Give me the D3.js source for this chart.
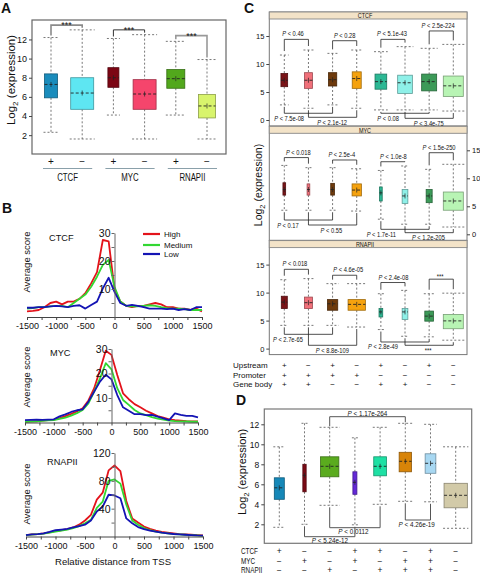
<!DOCTYPE html>
<html><head><meta charset="utf-8">
<script src="https://cdn.jsdelivr.net/npm/d3@7/dist/d3.min.js"></script>
<style>
body{margin:0;background:#fff}
svg{display:block}
text{font-family:"Liberation Sans",Arial,Helvetica,sans-serif;fill:#111}
</style></head><body>
<svg id="fig" width="480" height="575"></svg>
<script>
// ================= DATA =================
// ---- Panel A ----
const catsA = ["CTCF","MYC","RNAPII"];
const signsA = ["+","−","+","−","+","−"];
// [lower whisker, Q1, median, Q3, upper whisker]
const boxA = [[2.3,5.9,7.3,8.4,12.2],[1.6,4.7,6.4,8.0,13.0],[4.1,7.0,8.0,9.05,12.1],
              [1.6,4.7,6.3,7.8,12.5],[4.1,6.9,7.9,8.85,11.8],[1.6,3.8,5.05,6.25,9.9]];
const sigA = [[0,1,"t",13.5,"***"],[2,3,"t",13.0,"***"],[4,5,"t",12.4,"***"]];
const ticksA = [2,4,6,8,10,12];

// ---- Panel B ----
const distB = d3.range(-1500,1501,100);
const levelsB = ["High","Medium","Low"];
const ctcfHigh   = [2,2.2,2.5,3.5,5,5.5,4.5,5.5,5.5,6.5,8.5,12,16,27.5,27,10,5.5,4,3.5,4,4,4.5,5,4.5,3.5,3.5,3,3,2.5,3,2];
const ctcfMedium = [3,3.2,3.5,3.5,3.8,4,4,3.5,5,6.5,8,10.8,14.4,18.6,20.4,10.8,5.5,4,3.8,3.8,4,4.2,4,3.5,3.2,3,3,2.8,2.5,2.5,2.5];
const ctcfLow    = [3.3,3.3,3.5,3.5,3.8,4,3.8,3.5,4,4.2,3,4.3,5.5,10.2,14,9,5,4,4.3,4,3.5,3,3,3,2.8,3,2.5,2.8,2.5,3.5,3.5];
const mycHigh    = [0.3,0.5,0.5,0.8,1,1.2,1.8,2.6,3.5,4.5,5.8,9,14,21.4,29.3,27.6,19.4,11.9,9.5,7.5,6.2,4.8,3.7,2.6,2,1.3,1,0.8,0.6,0.5,0.4];
const mycMedium  = [0.3,0.4,0.5,0.7,0.9,1,1.5,2,2.8,3.8,5.1,7.8,12.6,18,24.2,21.7,14,9.2,7.2,5.1,3.7,3,2.2,1.6,1.2,0.8,0.6,0.5,0.4,0.3,0.3];
const mycLow     = [1,1.1,1.2,1.1,1.2,1.3,2.5,3.3,4.3,5,5.4,8.5,12.6,16.7,19.5,17.6,11.2,6.2,4.8,3.4,3.4,3,3.1,2.4,1.7,1,3.7,3.1,2.7,2.7,2.1];
const polHigh    = [2,3,3.5,4.5,6,8,9,10.5,13,17,23,31,53,63,95,102,94,51,26,20,14.3,11,8.5,6.5,5.5,4.6,3.5,3,2.5,2,1.5];
const polMedium  = [2,2.8,3.3,4,5.5,7,8.5,10,12,15,19,24,41,50,80,82,76,46,23,17,12,9,7,5.5,4.5,3.5,3,2.5,2,1.5,1];
const polLow     = [2,3,3.5,4.5,6.5,9,10,11,13,15,17,23,36,43,60,59,55,26,19,13.5,10.5,8.5,7,5.5,4.5,3.6,3,2.5,2,1.5,1.2];

// ---- Panel C ----
const factorsC = ["CTCF","MYC","RNAPII"];
const rowsC = ["Upstream","Promoter","Gene body"];
const signsC = [["+","−","+","−","+","−","+","−"],["+","+","+","+","−","−","−","−"],["+","+","−","−","+","+","−","−"]];
const ctcfC = [[2.7,5.95,7.1,8.3,11.6],[2.1,5.65,7.1,8.45,12.5],[2.7,6.07,7.2,8.45,11.9],[2.1,5.65,7.4,8.6,12.5],
               [1.8,5.5,6.85,8.2,12.2],[1.8,4.75,6.65,8.0,13.1],[1.8,5.2,6.85,8.2,12.8],[1.6,4.2,6.1,7.85,13.5]];
const mycC  = [[4.3,7.0,8.0,9.2,12.3],[4.3,7.0,8.0,9.0,11.9],[4.3,7.0,8.0,9.1,11.9],[4.15,6.85,7.9,9.0,11.7],
               [2.7,5.95,7.4,8.45,11.4],[1.8,5.5,6.85,8.0,12.2],[1.8,5.65,6.85,8.0,11.6],[1.3,4.3,5.95,7.55,12.5]];
const polC  = [[4.15,7.15,8.3,9.35,12.3],[4.15,7.15,8.2,9.2,12.5],[4.15,6.85,8.0,8.75,11.6],[3.85,6.85,7.9,8.75,11.6],
               [3.4,5.65,6.55,7.15,9.8],[2.2,5.2,6.55,7.15,10.4],[2.1,4.9,5.8,6.7,9.8],[1.5,3.55,4.95,6.1,9.9]];
// [box i, box j, side, level, label, label position (box index)]
const sigCtcfC = [[0,1,"t",14.4,"P < 0.46",0.36],[2,3,"t",14.16,"P < 0.28",2.5],[4,5,"t",14.4,"P < 5.1e-43",4.46],[6,7,"t",15.9,"P < 2.5e-224",6.37],
                  [0,2,"b",1.2,"P < 7.5e-08",0.2],[1,3,"b",0.48,"P < 2.1e-12",1.98],[4,6,"b",1.2,"P < 0.08",4.3],[5,7,"b",0.3,"P < 3.4e-75",5.98]];
const sigMycC  = [[0,1,"t",13.7,"P < 0.018",0.58],[2,3,"t",13.27,"P < 2.5e-4",2.38],[4,5,"t",12.96,"P < 1.0e-8",4.52],[6,7,"t",14.57,"P < 1.5e-250",6.41],
                  [0,2,"b",2.55,"P < 0.17",0.15],[1,3,"b",1.66,"P < 0.55",1.95],[4,6,"b",0.89,"P < 1.7e-11",4.02],[5,7,"b",0.29,"P < 1.2e-205",5.97]];
const sigPolC  = [[0,1,"t",14.16,"P < 0.018",0.44],[2,3,"t",13.1,"P < 4.6e-05",2.65],[4,5,"t",11.8,"P < 2.4e-08",4.52],[6,7,"t",12.4,"***",6.45],
                  [0,2,"b",2.55,"P < 2.7e-65",0.15],[1,3,"b",0.59,"P < 8.8e-109",1.99],[4,6,"b",1.18,"P < 2.8e-49",4.09],[5,7,"b",0.59,"***",5.96]];
const ticksC = [0,5,10,15];

// ---- Panel D ----
const rowsD = ["CTCF","MYC","RNAPII"];
const signsD = [["+","−","−","+","+","−","+","−"],["−","+","−","+","−","+","+","−"],["−","−","+","−","+","+","+","−"]];
const boxD = [[1.7,4.5,5.65,6.65,9.75],[2.0,5.25,6.9,8.0,12.1],[3.9,6.75,7.8,8.75,11.7],[1.95,5.0,6.2,7.25,10.65],
              [4.0,6.85,7.8,8.75,11.7],[4.3,7.25,8.3,9.2,12.1],[4.25,7.1,8.1,9.05,12.0],[1.6,3.65,4.9,6.1,9.75]];
const sigD = [[2,5,"t",12.76,"P < 1.17e-264",3.5],[2,4,"b",1.66,"P < 0.0112",2.94],[1,3,"b",0.76,"P < 5.24e-12",2.01],[5,6,"b",2.43,"P < 4.26e-19",5.45]];
const ticksD = [2,4,6,8,10,12];

// ================= STYLE =================
const colA = ["#1a8cbc","#5ee6f2","#7c0614","#f5456c","#52a81c","#d8f46c"];
const widA = [13,23,11,23,18,17];
const colB = ["#e3131b","#32d732","#1414b4"];
const colC = ["#7a1418","#f0707a","#6e3a0c","#f5a20e","#2cb894","#8ef0e8","#3c9a58","#b8f4b4"];
const widC = [[6.7,8,8.3,9,11.7,14.7,15,20],[2.7,2.7,3.7,9.3,2.7,5.7,6,20],[6,8,10.3,17.3,3.7,5.7,8.7,20]];
const colD = ["#1688b8","#7a0a14","#5aab1e","#6428d8","#1ee0a4","#d88408","#a8d8f2","#d2caa8"];
const widD = [10,3.3,18.3,4,12.7,12.3,10.7,23.3];

// ================= HELPERS =================
const svg = d3.select("#fig");
function condense(t,k){const L=t.node().getComputedTextLength();t.attr("textLength",L*k).attr("lengthAdjust","spacingAndGlyphs");return t;}
function letter(t,x,y){svg.append("text").attr("x",x).attr("y",y).attr("font-weight","bold").attr("font-size",14).text(t);}
function ylab(x,y,fs){
  const t=svg.append("text").attr("transform",`translate(${x},${y}) rotate(-90)`).attr("text-anchor","middle").attr("font-size",fs);
  t.append("tspan").text("Log");
  t.append("tspan").attr("font-size",fs*0.7).attr("dy",fs*0.3).text("2");
  t.append("tspan").attr("dy",-fs*0.3).text(" (expression)");
}
function styleAxis(ax,fs){ax.attr("font-family",null).attr("font-size",fs);ax.selectAll("line").attr("stroke","#444");ax.selectAll("path").attr("stroke","#444");}
function drawBoxes(g,x,y,stats,colors,widths){
  stats.forEach((s,i)=>{
    const cx=x(i),w=widths[i],cw=Math.max(w+2,6);
    const [lo,q1,md,q3,hi]=s;
    const dash={"stroke":"#555","stroke-width":0.8,"stroke-dasharray":"2,2"};
    const L=(x1,y1,x2,y2,st)=>{const l=g.append("line").attr("x1",x1).attr("y1",y1).attr("x2",x2).attr("y2",y2);for(const k in st)l.attr(k,st[k]);};
    L(cx,y(hi),cx,y(q3),dash); L(cx,y(q1),cx,y(lo),dash);
    L(cx-cw/2,y(hi),cx+cw/2,y(hi),dash); L(cx-cw/2,y(lo),cx+cw/2,y(lo),dash);
    g.append("rect").attr("x",cx-w/2).attr("y",y(q3)).attr("width",w).attr("height",y(q1)-y(q3))
      .attr("fill",colors[i]).attr("stroke",d3.color(colors[i]).darker(1.2)).attr("stroke-width",0.8);
    L(cx-w/2,y(md),cx+w/2,y(md),{"stroke":"#222","stroke-width":0.9,"stroke-dasharray":"3,2"});
    L(cx,y(md)-2.5,cx,y(md)+2.5,{"stroke":"#222","stroke-width":0.7});
  });
}
function pLabel(g,tx,ty,lab,fs,k){
  const t=g.append("text").attr("x",tx).attr("y",ty).attr("text-anchor","middle").attr("font-size",fs);
  if(lab.startsWith("P")){t.append("tspan").attr("font-style","italic").text("P");t.append("tspan").text(lab.slice(1));}
  else t.text(lab);
  if(k&&k!==1)condense(t,k);
}
function drawBrackets(g,x,y,stats,list,o){
  list.forEach(b=>{
    const [i,j,side,lvl,lab,lx]=b;
    const yb=y(lvl);
    const end=k=>side==="t"?y(stats[k][4])-o.gapT:y(stats[k][0])+o.gapB;
    g.append("path").attr("d",`M${x(i)},${end(i)}V${yb}H${x(j)}V${end(j)}`)
      .attr("fill","none").attr("stroke",o.color||"#222").attr("stroke-width",o.sw||0.8);
    const tx=lx==null?(x(i)+x(j))/2:x(lx);
    let ty=side==="t"?yb-o.tOff:yb+o.bOff;
    if(lab==="***")ty=side==="t"?yb+o.starT:yb+o.starB;
    pLabel(g,tx,ty,lab,o.fs,o.k);
  });
}

// ================= PANEL A =================
letter("A",1,13);
{
  const g=svg.append("g");
  const x=d3.scaleLinear().domain([0,5]).range([51,207]);
  const y=d3.scaleLinear().domain([0,14]).range([154.3,20.3]);
  g.append("rect").attr("x",32).attr("y",20).attr("width",194).attr("height",134).attr("fill","none").attr("stroke","#666").attr("stroke-width",1.2);
  const ax=g.append("g").attr("transform","translate(32,0)").call(d3.axisLeft(y).tickValues(ticksA).tickSize(3).tickPadding(2));
  ax.select(".domain").remove(); styleAxis(ax,9);
  drawBoxes(g,x,y,boxA,colA,widA);
  const bc=["#8a8a8a","#333","#999"], bw=[1.6,1,1.6];
  sigA.forEach((s,k)=>drawBrackets(g,x,y,boxA,[s],{gapT:2,gapB:2,color:bc[k],sw:bw[k],fs:9,tOff:3,bOff:7,starT:3.4,starB:8}));
  signsA.forEach((s,i)=>g.append("text").attr("x",x(i)).attr("y",164.5).attr("text-anchor","middle").attr("font-size",10).text(s));
  catsA.forEach((c,k)=>{
    g.append("line").attr("x1",x(2*k)-8).attr("x2",x(2*k+1)+10).attr("y1",168.5).attr("y2",168.5).attr("stroke","#8aa0aa").attr("stroke-width",1.2);
    condense(g.append("text").attr("x",(x(2*k)+x(2*k+1))/2+1).attr("y",180.5).attr("text-anchor","middle").attr("font-size",10).text(c),0.78);
  });
  ylab(14.5,80,11.5);
}

// ================= PANEL B =================
letter("B",2,213);
{
  const panels=[
    {name:"CTCF",s:[ctcfHigh,ctcfMedium,ctcfLow],ymax:30,step:5,lstep:10,xr:[27,202],yr:[317,233],title:[49,241],yl:262,legend:true},
    {name:"MYC",s:[mycHigh,mycMedium,mycLow],ymax:30,step:5,lstep:10,xr:[25,198],yr:[422.5,349],title:[50,356],yl:377},
    {name:"RNAPII",s:[polHigh,polMedium,polLow],ymax:120,step:20,lstep:40,xr:[26,203],yr:[536.5,453],title:[47,465],yl:494,xlabel:true}
  ];
  panels.forEach(p=>{
    const g=svg.append("g");
    const x=d3.scaleLinear().domain([-1500,1500]).range(p.xr);
    const y=d3.scaleLinear().domain([0,p.ymax]).range(p.yr);
    const line=d3.line().x((d,i)=>x(distB[i])).y(d=>y(d));
    p.s.forEach((s,k)=>g.append("path").attr("d",line(s)).attr("fill","none").attr("stroke",colB[k]).attr("stroke-width",1.8).attr("stroke-linejoin","round"));
    const ax=g.append("g").attr("transform",`translate(0,${p.yr[0]})`)
      .call(d3.axisBottom(x).tickValues(d3.range(-1500,1501,250)).tickSize(3).tickSizeOuter(0).tickPadding(3).tickFormat(d=>d%500===0?String(d):""));
    styleAxis(ax,9);
    const ay=g.append("g").attr("transform",`translate(${x(0)},0)`)
      .call(d3.axisLeft(y).tickValues(d3.range(p.step,p.ymax+1,p.step)).tickSize(3).tickSizeOuter(0).tickPadding(1).tickFormat(d=>d%p.lstep===0?d:""));
    styleAxis(ay,10.5); ay.selectAll("path,line").attr("stroke","#666");
    g.append("text").attr("x",p.title[0]).attr("y",p.title[1]).attr("font-size",9.2).text(p.name);
    g.append("text").attr("transform",`translate(30,${p.yl}) rotate(-90)`).attr("text-anchor","middle").attr("font-size",9.5).text("Average score");
    if(p.legend){
      const ly=[234,245,254];
      levelsB.forEach((l,k)=>{
        g.append("line").attr("x1",143).attr("x2",160).attr("y1",ly[k]).attr("y2",ly[k]).attr("stroke",colB[k]).attr("stroke-width",2.2);
        g.append("text").attr("x",164).attr("y",ly[k]+3).attr("font-size",8).text(l);
      });
    }
    if(p.xlabel) g.append("text").attr("x",113).attr("y",565).attr("text-anchor","middle").attr("font-size",9.6).text("Relative distance from TSS");
  });
}

// ================= PANEL C =================
letter("C",244,13);
{
  const x=d3.scaleLinear().domain([0,7]).range([284.3,453.3]);
  const statsC=[ctcfC,mycC,polC], sigC=[sigCtcfC,sigMycC,sigPolC];
  factorsC.forEach((f,i)=>{
    const g=svg.append("g");
    const top=12+i*114.3;
    const y=d3.scaleLinear().domain([0,15]).range([top+108,top+24]);
    g.append("rect").attr("x",269.3).attr("y",top).attr("width",197.7).attr("height",114).attr("fill","none").attr("stroke","#777").attr("stroke-width",1);
    g.append("rect").attr("x",269.3).attr("y",top).attr("width",197.7).attr("height",7).attr("fill","#f3e3c8").attr("stroke","#888").attr("stroke-width",0.9);
    condense(g.append("text").attr("x",365).attr("y",top+6.3).attr("text-anchor","middle").attr("font-size",7).text(f),0.78);
    const right=(i===1);
    const ax=g.append("g").attr("transform",`translate(${right?467:269.3},0)`)
      .call((right?d3.axisRight(y):d3.axisLeft(y)).tickValues(ticksC).tickSize(3).tickPadding(2));
    ax.select(".domain").remove(); styleAxis(ax,7.5);
    drawBoxes(g,x,y,statsC[i],colC,widC[i]);
    drawBrackets(g,x,y,statsC[i],sigC[i],{gapT:4,gapB:2,color:"#222",sw:0.8,fs:7,k:0.82,tOff:3,bOff:7.5,starT:0,starB:8});
  });
  ylab(261.5,185,10.5);
  const ry=[367.5,377.5,386.5];
  rowsC.forEach((r,k)=>{
    svg.append("text").attr("x",233).attr("y",ry[k]).attr("font-size",8).text(r);
    signsC[k].forEach((s,i)=>svg.append("text").attr("x",x(i)).attr("y",ry[k]).attr("text-anchor","middle").attr("font-size",8).text(s));
  });
}

// ================= PANEL D =================
letter("D",236,405);
{
  const g=svg.append("g");
  const x=d3.scaleLinear().domain([0,7]).range([279.3,455.7]);
  const y=d3.scaleLinear().domain([0,14]).range([544.3,404.3]);
  g.append("rect").attr("x",264.3).attr("y",409).attr("width",207.4).attr("height",134.3).attr("fill","none").attr("stroke","#777").attr("stroke-width",1.2);
  const ax=g.append("g").attr("transform","translate(264.3,0)").call(d3.axisLeft(y).tickValues(ticksD).tickSize(3).tickPadding(2));
  ax.select(".domain").remove(); styleAxis(ax,8.5);
  drawBoxes(g,x,y,boxD,colD,widD);
  drawBrackets(g,x,y,boxD,sigD,{gapT:1,gapB:2,color:"#555",sw:1,fs:7,k:0.9,tOff:1,bOff:6.5,starT:0,starB:8});
  ylab(246,472,11);
  const ry=[554,563.5,573];
  rowsD.forEach((r,k)=>{
    condense(svg.append("text").attr("x",241).attr("y",ry[k]).attr("font-size",8.5).text(r),0.75);
    signsD[k].forEach((s,i)=>svg.append("text").attr("x",x(i)).attr("y",ry[k]).attr("text-anchor","middle").attr("font-size",8.5).text(s));
  });
}
</script>
</body></html>
